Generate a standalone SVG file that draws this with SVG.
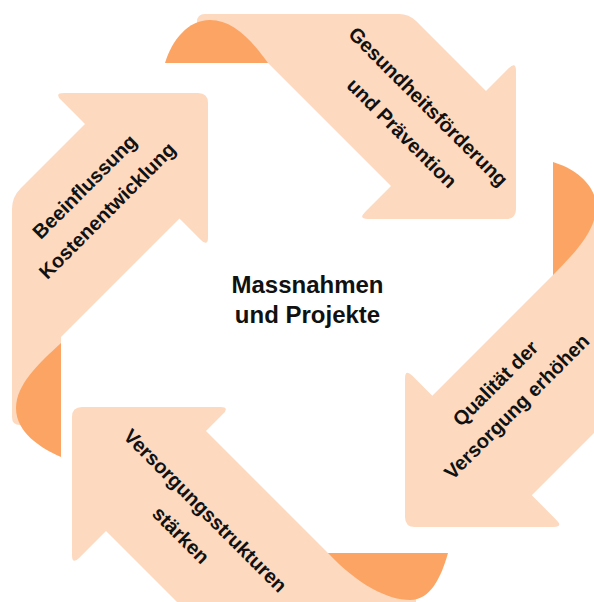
<svg xmlns="http://www.w3.org/2000/svg" width="594" height="602" viewBox="0 0 594 602">
<style>
.band{fill:#FDD9BF}
.fold{fill:#FCA463}
.lbl{font-family:"Liberation Sans",Arial,sans-serif;font-weight:bold;font-size:20px;fill:#111;text-anchor:middle}
.ctr{font-family:"Liberation Sans",Arial,sans-serif;font-weight:bold;font-size:24px;fill:#111;text-anchor:middle}
</style>
<rect width="594" height="602" fill="#FFFFFF"/>
<g id="arrow-gesundheit">
<path class="band" d="M197,63 L197,22 Q197,14 205,14 L399,14 Q409,14 416.1,21.1 L486,91 L508.9,68.1 Q516,61 516,71 L516,209 Q516,219 506,219 L368,219 Q358,219 365.1,211.9 L391,186 L268,63 Z"/>
<path class="fold" d="M165,63 C172,40 188,20 210,20 C232,20 250,38 268,63 Z"/>
<text class="lbl" transform="translate(427,108) rotate(45)" y="5">Gesundheitsförderung</text>
<text class="lbl" transform="translate(402,133) rotate(45)" y="7">und Prävention</text>
</g>
<g id="arrow-qualitaet">
<path class="band" d="M553,194 L594,194 Q602,194 602,202 L602,415 Q602,425 594.9,432.1 L531.8,495.3 L556.4,519.9 Q563.5,527 553.5,527 L415,527 Q405,527 405,517 L405,378.5 Q405,368.5 412.1,375.6 L432.3,395.8 L553,275 Z"/>
<path class="fold" d="M553,162 C576,169 596,185 596,207 C596,229 578,250 553,275 Z"/>
<text class="lbl" transform="translate(496,384) rotate(-45)" y="6">Qualität der</text>
<text class="lbl" transform="translate(518,408) rotate(-45)" y="5">Versorgung erhöhen</text>
</g>
<g id="arrow-versorgung">
<path class="band" d="M416,553 L416,606 L181,606 L106,531 L79.1,557.9 Q72,565 72,555 L72,417 Q72,407 82,407 L220,407 Q230,407 222.9,414.1 L206,431 L328,553 Z"/>
<path class="fold" d="M448,553 C441,578 430,600 410,600 C388,600 358,585 328,553 Z"/>
<text class="lbl" transform="translate(204,512) rotate(45)" y="5">Versorgungsstrukturen</text>
<text class="lbl" transform="translate(181,535) rotate(45)" y="7">stärken</text>
</g>
<g id="arrow-kosten">
<path class="band" d="M61,425 L20,425 Q12,425 12,417 L12,209 Q12,197 20.5,188.5 L85,124 L61.1,100.1 Q54,93 64,93 L198,93 Q208,93 208,103 L208,237 Q208,247 200.9,239.9 L179.5,218.5 L61,337 Z"/>
<path class="fold" d="M61,457 C40,448 16,432 16,408 C16,385 38,364 61,343 Z"/>
<text class="lbl" transform="translate(86,188) rotate(-45)" y="5">Beeinflussung</text>
<text class="lbl" transform="translate(108.5,212) rotate(-45)" y="5">Kostenentwicklung</text>
</g>
<g id="center">
<text class="ctr" x="307.5" y="293">Massnahmen</text>
<text class="ctr" x="307.5" y="323">und Projekte</text>
</g>
</svg>
